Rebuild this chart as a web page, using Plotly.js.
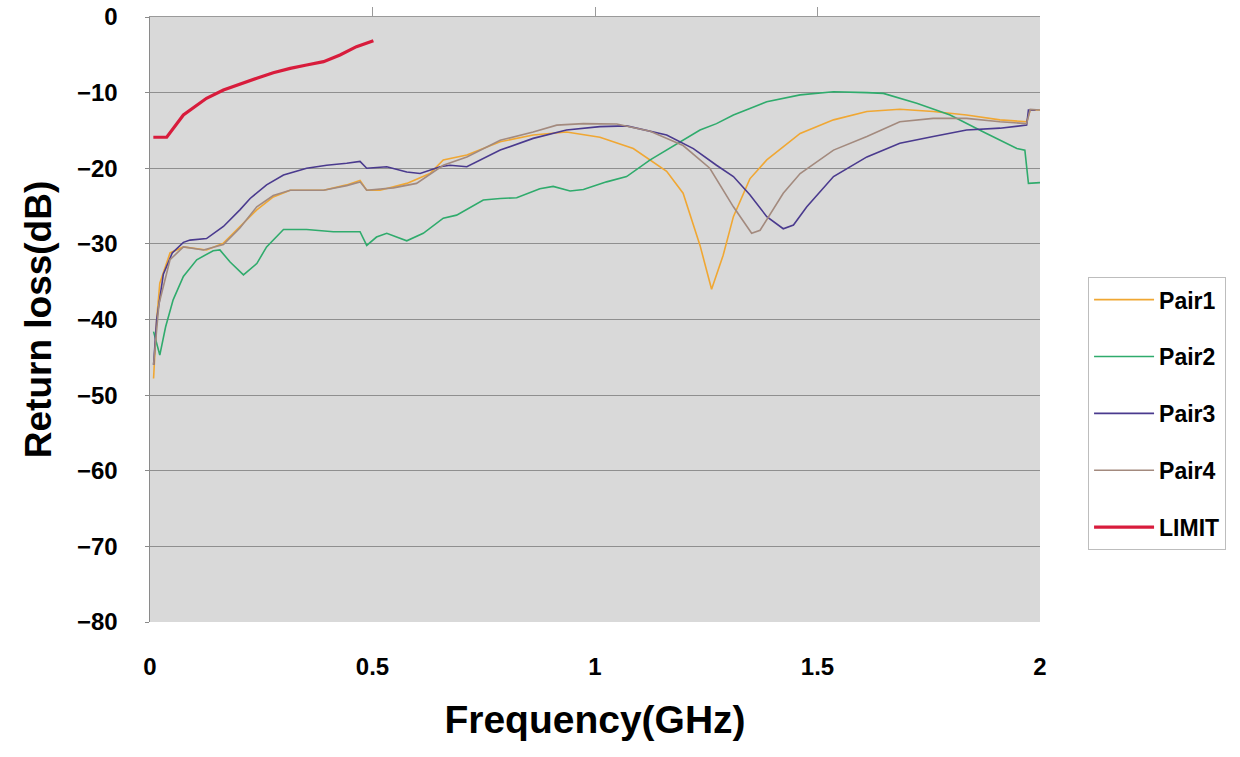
<!DOCTYPE html>
<html><head><meta charset="utf-8">
<script src="https://cdn.plot.ly/plotly-3.0.1.min.js"></script>
<style>html,body{margin:0;padding:0;background:#fff}#chart{width:1240px;height:757px}</style>
</head><body><div id="chart"></div>
<script>
const seriesNames = ["Pair1", "Pair2", "Pair3", "Pair4", "LIMIT"];

const pair1X = [0.008,0.015,0.022,0.045,0.075,0.097,0.127,0.165,0.202,0.24,0.277,0.315,0.39,0.442,0.472,0.487,0.517,0.577,0.629,0.659,0.712,0.787,0.861,0.936,1.011,1.086,1.161,1.198,1.236,1.262,1.288,1.311,1.348,1.386,1.461,1.536,1.611,1.685,1.76,1.835,1.91,1.97,1.978,2.0];
const pair1Y = [-47.8,-40,-35.2,-31.2,-30.4,-30.6,-30.8,-29.9,-27.7,-25.5,-23.8,-22.9,-22.9,-22.2,-21.6,-22.9,-22.9,-22.0,-20.7,-18.9,-18.25,-16.5,-15.6,-15.2,-15.9,-17.4,-20.4,-23.3,-30.2,-36.0,-31.5,-26.4,-21.4,-18.9,-15.4,-13.6,-12.5,-12.2,-12.5,-12.96,-13.6,-13.85,-12.3,-12.3];

const pair2X = [0.008,0.015,0.022,0.035,0.052,0.075,0.105,0.142,0.157,0.18,0.21,0.24,0.262,0.3,0.352,0.412,0.472,0.487,0.509,0.532,0.562,0.577,0.614,0.659,0.689,0.749,0.787,0.824,0.876,0.906,0.944,0.974,1.026,1.071,1.124,1.161,1.198,1.236,1.273,1.311,1.348,1.386,1.461,1.536,1.611,1.648,1.723,1.798,1.873,1.948,1.966,1.974,2.0];
const pair2Y = [-41.6,-43.0,-44.7,-41.0,-37.4,-34.3,-32.1,-30.9,-30.8,-32.4,-34.1,-32.6,-30.4,-28.1,-28.1,-28.4,-28.4,-30.2,-29.1,-28.6,-29.3,-29.6,-28.6,-26.6,-26.2,-24.2,-24.0,-23.9,-22.7,-22.4,-23.0,-22.8,-21.8,-21.1,-18.9,-17.6,-16.3,-14.95,-14.1,-12.96,-12.1,-11.2,-10.3,-9.88,-10.0,-10.1,-11.4,-12.96,-15.2,-17.4,-17.6,-22.0,-21.9];

const pair3X = [0.008,0.015,0.03,0.05,0.075,0.09,0.127,0.165,0.202,0.225,0.262,0.3,0.352,0.397,0.442,0.472,0.487,0.532,0.577,0.607,0.652,0.674,0.712,0.787,0.861,0.936,1.011,1.071,1.161,1.221,1.273,1.311,1.348,1.386,1.423,1.446,1.476,1.536,1.611,1.685,1.76,1.835,1.91,1.97,1.974,1.99];
const pair3Y = [-46,-40,-34,-31.2,-29.8,-29.5,-29.3,-27.7,-25.5,-24,-22.2,-20.9,-20.0,-19.6,-19.35,-19.1,-20.0,-19.8,-20.5,-20.7,-19.8,-19.6,-19.8,-17.6,-16.05,-14.95,-14.5,-14.4,-15.6,-17.4,-19.6,-21.1,-23.5,-26.4,-28.0,-27.5,-25.1,-21.1,-18.5,-16.7,-15.8,-14.95,-14.7,-14.3,-12.3,-12.3];

const pair4X = [0.008,0.02,0.045,0.075,0.12,0.165,0.202,0.24,0.277,0.315,0.39,0.442,0.472,0.487,0.547,0.599,0.659,0.712,0.787,0.861,0.914,0.974,1.049,1.124,1.198,1.258,1.311,1.352,1.371,1.423,1.461,1.536,1.611,1.685,1.76,1.835,1.91,1.97,1.978,2.0];
const pair4Y = [-46,-38,-32.1,-30.4,-30.8,-30.1,-27.9,-25.1,-23.6,-22.9,-22.9,-22.3,-21.8,-22.9,-22.6,-22.0,-19.6,-18.5,-16.3,-15.2,-14.3,-14.1,-14.15,-15.1,-17.0,-20.0,-25.1,-28.6,-28.2,-23.3,-20.7,-17.6,-15.8,-13.85,-13.4,-13.4,-13.85,-14.1,-12.2,-12.3];

const limitX = [0.0075,0.0375,0.075,0.127,0.165,0.202,0.24,0.277,0.315,0.352,0.39,0.427,0.464,0.502];
const limitY = [-15.9,-15.9,-12.96,-10.75,-9.66,-8.86,-8.1,-7.37,-6.79,-6.35,-5.91,-5.03,-3.92,-3.13];

const xTicks = [0, 0.5, 1, 1.5, 2];
const xTickText = ["0", "0.5", "1", "1.5", "2"];
const yTicks = [0, -10, -20, -30, -40, -50, -60, -70, -80];

const colors = ["#f0a733", "#2fab6c", "#4a3a8e", "#a38a7e", "#d81c3c"];
const widths = [1.6, 1.6, 1.6, 1.6, 3.2];
const xs = [pair1X, pair2X, pair3X, pair4X, limitX];
const ys = [pair1Y, pair2Y, pair3Y, pair4Y, limitY];

const traces = seriesNames.map((n, i) => ({
  type: "scatter", mode: "lines", name: n, x: xs[i], y: ys[i],
  legendgroup: "g" + i,
  line: {color: colors[i], width: widths[i]}
}));
// invisible trace to draw top axis ticks
traces.push({type:"scatter", mode:"lines", x:[0,2], y:[0,0], xaxis:"x2", showlegend:false, hoverinfo:"skip", line:{width:0, color:"rgba(0,0,0,0)"}});

const font = {family: "Liberation Sans, Arial, sans-serif", color: "#000"};
const layout = {
  width: 1240, height: 757,
  margin: {l: 150, r: 200, t: 17, b: 135},
  paper_bgcolor: "#ffffff",
  plot_bgcolor: "#d9d9d9",
  showlegend: true,
  font: font,
  xaxis: {
    range: [0, 2], tickvals: xTicks, ticktext: xTickText,
    showgrid: false, zeroline: false, showline: false, ticks: "",
    ticklabelstandoff: 28,
    tickfont: {family: font.family, size: 24, color: "#000", weight: "bold"},
    title: {text: "<b>Frequency(GHz)</b>", font: {family: font.family, size: 39, color: "#000"}, standoff: 26}
  },
  xaxis2: {
    range: [0, 2], overlaying: "x", side: "top", tickvals: [0.5, 1, 1.5],
    showticklabels: false, ticks: "outside", ticklen: 9, tickcolor: "#9a9a9a",
    showline: true, linecolor: "#9a9a9a", linewidth: 1.5, showgrid: false, zeroline: false
  },
  yaxis: {
    range: [-80, 0], tickvals: yTicks,
    showgrid: true, gridcolor: "#8f8f8f", gridwidth: 1.2,
    zeroline: false, showline: true, linecolor: "#8a8a8a", linewidth: 1.5,
    ticks: "outside", ticklen: 4, tickcolor: "#8a8a8a",
    ticklabelstandoff: 22,
    tickfont: {family: font.family, size: 24, color: "#000", weight: "bold"},
    title: {text: "<b>Return loss(dB)</b>", font: {family: font.family, size: 37, color: "#000"}, standoff: 14}
  },
  legend: {
    x: 1.054, y: 0.57, xanchor: "left", yanchor: "top",
    bgcolor: "#ffffff", bordercolor: "#bdbdbd", borderwidth: 1,
    traceorder: "grouped", tracegroupgap: 24, itemwidth: 60,
    font: {family: font.family, size: 23, color: "#000", weight: "bold"}
  }
};
Plotly.newPlot("chart", traces, layout, {displayModeBar: false, staticPlot: true});
</script></body></html>
